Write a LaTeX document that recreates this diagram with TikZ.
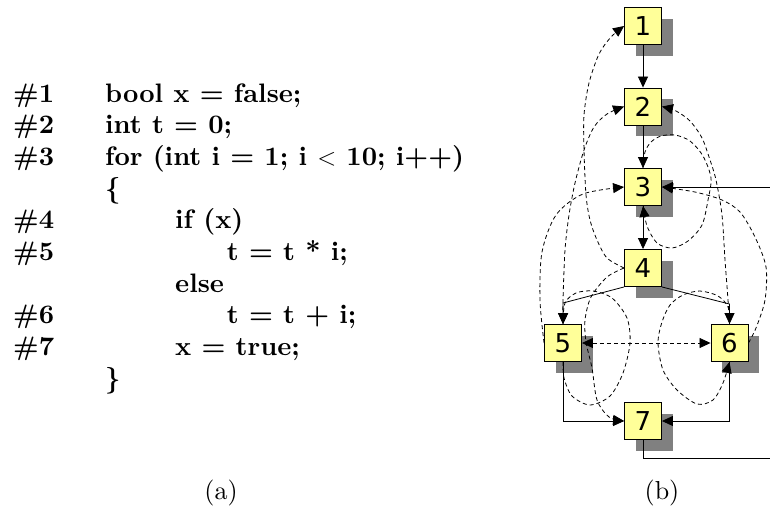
\documentclass[tikz,border=0pt]{standalone}
\usepackage{fontspec}
\setmainfont{lmroman10-regular.otf}[BoldFont=lmroman10-bold.otf]
\newfontfamily\boxfont{DejaVu Sans}
\usetikzlibrary{shadows,arrows.meta}
\definecolor{boxyellow}{RGB}{255,255,153}
\definecolor{shadowgray}{RGB}{128,128,128}
\begin{document}
\begin{tikzpicture}[x=1pt,y=-1pt,
  codeline/.style={anchor=base west, inner sep=0pt, font=\fontsize{26.7}{31}\selectfont\bfseries},
  captext/.style={anchor=base, inner sep=0pt, font=\fontsize{26}{31}\selectfont},
  blk/.style={draw, line width=0.9pt, fill=boxyellow, minimum size=37pt, inner sep=0pt,
    font=\boxfont\fontsize{26}{30}\selectfont,
    drop shadow={shadow xshift=11pt, shadow yshift=-11pt, fill=shadowgray, opacity=1}},
  mytip/.tip={Triangle[length=11pt,width=10pt]},
  flow/.style={line width=0.8pt, -mytip},
  dep/.style={line width=0.8pt, dash pattern=on 4pt off 3pt, -mytip},
  depboth/.style={line width=0.8pt, dash pattern=on 4pt off 3pt, mytip-mytip}]
\useasboundingbox (0,0) rectangle (770,512);

% ---- code listing (a)
\node[codeline] (c1n) at (13,102) {\#1};
\node[codeline] (c1t) at (105,102) {bool x = false;};
\node[codeline] (c2n) at (13,133.7) {\#2};
\node[codeline] (c2t) at (105,133.7) {int t = 0;};
\node[codeline] (c3n) at (13,165.3) {\#3};
\node[codeline] (c3t) at (105,165.3) {for (int i = 1; i $<$ 10; i++)};
\node[codeline] (c3b) at (105,197) {\{};
\node[codeline] (c4n) at (13,228.7) {\#4};
\node[codeline] (c4t) at (175,228.7) {if (x)};
\node[codeline] (c5n) at (13,260.3) {\#5};
\node[codeline] (c5t) at (226.7,260.3) {t = t * i;};
\node[codeline] (c5e) at (175,292) {else};
\node[codeline] (c6n) at (13,323.7) {\#6};
\node[codeline] (c6t) at (226.7,323.7) {t = t + i;};
\node[codeline] (c7n) at (13,355.3) {\#7};
\node[codeline] (c7t) at (175,355.3) {x = true;};
\node[codeline] (c7b) at (105,387) {\}};

\node[captext] (capa) at (221,499) {(a)};
\node[captext] (capb) at (662,499) {(b)};

% ---- graph (b)
\node[blk] (n1) at (643,26) {1};
\node[blk] (n2) at (643,106.5) {2};
\node[blk] (n3) at (643,187) {3};
\node[blk] (n4) at (643,268) {4};
\node[blk] (n5) at (563,343) {5};
\node[blk] (n6) at (729.5,343) {6};
\node[blk] (n7) at (643,421) {7};

\coordinate (k45) at (563,303);
\coordinate (k46) at (729.5,304);
\coordinate (loopR) at (790,458);

% control flow
\draw[flow] (n1) -- (n2);
\draw[flow] (n2) -- (n3);
\draw[flow] (n3) -- (n4);
\draw[flow] (n4.south west) -- (k45) -- (n5.north);
\draw[flow] (n4.south east) -- (k46) -- (n6.north);
\draw[flow] (n5.south) |- (n7.west);
\draw[flow] (n6.south) |- (n7.east);
\draw[flow] (n7.south) |- (loopR) |- (n3.east);

% dependences
\draw[dep] plot[smooth] coordinates {(n4.west) (607,258) (597,240) (590,220) (586,195) (584,150) (584,115) (589,83) (599,54) (611,37) (n1.west)};
\draw[dep] plot[smooth] coordinates {(n5.north) (563,300) (565,250) (569,215) (575,183) (584,150) (594,127) (607,114) (n2.west)};
\draw[dep] plot[smooth] coordinates {(n5.west) (540,300) (542,252) (556,215) (583,194) (n3.west)};
\draw[dep] plot[smooth] coordinates {(n4.west) (607,277) (591,297) (585,320) (586,342) (592,368) (597,400) (609,417) (n7.west)};
\draw[dep] plot[smooth] coordinates {(n5.south) (564,378) (572,396) (590,405) (610,396) (623,373) (630,343) (627,318) (612,298) (593,291) (576,293) (565,303) (n5.north)};
\draw[dep] plot[smooth] coordinates {(n6.north) (728,307) (718,296) (700,291) (683,295) (670,305) (662,322) (658,343) (663,370) (677,390) (697,404) (713,400) (723,383) (n6.south)};
\draw[depboth] (n5.east) -- (n6.west);
\draw[dep] plot[smooth] coordinates {(n6.east) (756,328) (765,300) (766,267) (755,237) (740,212) (722,200) (695,192) (n3.east)};
\draw[dep] plot[smooth] coordinates {(n6.north) (728,300) (725,260) (722,215) (716,180) (710,160) (702,138) (690,121) (676,111) (n2.east)};
\draw[dep] plot[smooth] coordinates {(n3.north) (645,152) (651,142) (661,136) (675,135) (690,141) (703,156) (711,178) (708,200) (702,225) (688,241) (672,248) (657,243) (647,226) (n3.south)};
\end{tikzpicture}
\end{document}
